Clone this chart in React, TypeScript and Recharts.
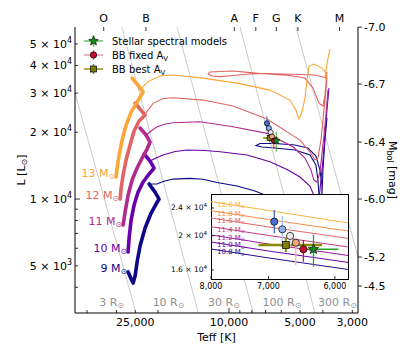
import React from 'react';
import { ComposedChart, Line, Scatter, XAxis, YAxis, ErrorBar } from 'recharts';

type Pt = [number, number];

const FONT = '"DejaVu Sans", sans-serif';

// ---------- main panel axes ----------
const TEFF_DOMAIN: [number, number] = [2838, 45000];
const LUM_DOMAIN: [number, number] = [3065, 59600];

const TEFF_TICKS = [40000, 30000, 25000, 20000, 10000, 9000, 8000, 7000, 6000, 5000, 4000, 3000];
const TEFF_LABELED = [25000, 10000, 5000, 3000];

const LUM_TICKS = [4000, 5000, 6000, 7000, 8000, 9000, 10000, 20000, 30000, 40000, 50000];
const LUM_LABELED = [5000, 10000, 20000, 30000, 40000, 50000];

const MBOL_TICK_LUM = [59500, 32960, 18060, 10000, 5480, 4056];
const MBOL_LABELS = ['-7.0', '-6.7', '-6.4', '-6.0', '-5.2', '-4.5'];

const SPEC_TYPES = ['O', 'B', 'A', 'F', 'G', 'K', 'M'];
const SPEC_TEFF = [34000, 22500, 9500, 7700, 6300, 5100, 3400];

// ---------- constant radius lines ----------
const RADIUS_LABELS = ['3', '10', '30', '100', '300'];
const RADIUS_LINE_TEFF: Pt[] = [[45000, 24800], [28490, 13490], [16610, 7900], [8980, 4320], [5201, 2838]];
const RADIUS_LINE_LUM: Pt[] = [[30030, 3065], [59600, 3065], [59600, 3065], [59600, 3065], [59600, 5480]];
const RADIUS_LABEL_TEFF = [31470, 18050, 10500, 5963, 3470];
const RADIUS_LABEL_LUM = 3447;

// ---------- evolutionary tracks: [Teff, L] ----------
const TRACK_MASSES = ['9', '10', '11', '12', '13'];
const TRACK_COLORS = ['#0d0887', '#6a00a8', '#b12a90', '#e16462', '#fca636'];

const MS_9: Pt[] = [[26790, 4691], [26020, 4361], [25510, 4183], [25020, 4500], [24540, 5203], [23840, 6142], [22700, 7403], [21400, 8648], [20390, 9495], [19800, 10000], [20590, 10750], [21830, 11690]];
const MS_10: Pt[] = [[26790, 5772], [26530, 6672], [26020, 8042], [25270, 9396], [24300, 10750], [23140, 11930], [21830, 12960], [20790, 13790], [21610, 14830], [22920, 15950]];
const MS_11: Pt[] = [[28130, 7637], [27590, 8740], [26790, 10420], [25770, 12180], [24540, 13790], [23370, 15300], [22260, 16800], [21610, 18060], [22480, 19430], [23840, 20890]];
const MS_12: Pt[] = [[28960, 10000], [28680, 11210], [28130, 12830], [27320, 14990], [26280, 17510], [25270, 20250], [24070, 22460], [22700, 23900], [23840, 25430], [25020, 27060]];
const MS_13: Pt[] = [[30120, 12560], [29830, 13790], [29250, 15790], [28400, 18440], [27320, 21540], [26020, 24650], [24540, 27350], [23140, 30340], [24540, 32960], [25770, 35080]];

const POST_9: Pt[] = [[21830, 11690], [20190, 11690], [19040, 11990], [17270, 12300], [14630, 12390], [12890, 12270], [11240, 11870], [9250, 11440], [7760, 10860], [6385, 10000], [5000, 8740], [4363, 7880], [4197, 8470], [4155, 10420], [4197, 12180], [4280, 14230], [4537, 15790], [5253, 16630], [6385, 16970], [7247, 17150], [7685, 17420], [7389, 17780], [6385, 17780], [5253, 17510], [4627, 16970], [4280, 15620], [4115, 13510], [4035, 11560], [4035, 10420], [3996, 13510], [3918, 18440], [3843, 23170]];
const POST_10: Pt[] = [[21610, 14830], [20390, 15300], [19040, 15790], [16940, 16370], [15070, 16630], [12640, 16540], [10920, 16330], [8390, 15790], [6702, 14720], [5623, 13510], [5002, 12560], [4537, 11440], [4280, 9896], [4197, 8470], [4155, 9896], [4075, 12180], [3996, 14990], [3918, 19430], [3843, 25170], [3769, 31620]];
const POST_11: Pt[] = [[22480, 19430], [21400, 20250], [20190, 21170], [18670, 21770], [17270, 22070], [13270, 22300], [9617, 21170], [6902, 19770], [5356, 17200], [4764, 15300], [4494, 13510], [4363, 12180], [4238, 11930], [4115, 13230], [3996, 17510], [3880, 23900], [3806, 30970]];
const POST_12: Pt[] = [[22700, 24150], [20990, 26990], [19040, 28360], [17270, 28600], [12890, 27920], [9617, 26240], [6902, 22930], [5002, 18440], [4537, 16280], [4321, 14990], [4197, 15300], [4075, 18440], [3957, 25170], [3880, 30970], [3843, 35080], [4321, 36200], [5002, 36390], [6902, 36760], [8149, 36570], [9617, 36010], [10920, 35630], [11800, 35820], [12270, 36570], [12040, 37340], [10920, 37530], [9617, 37730], [8149, 37140], [6902, 36570], [5515, 36010], [4764, 35080], [4406, 31620], [4155, 27060], [3996, 26240], [3918, 29410], [3843, 37340]];
const POST_13: Pt[] = [[23840, 30970], [22260, 33650], [19610, 35820], [17270, 36200], [12890, 35080], [9250, 33300], [6702, 30970], [5515, 27920], [5202, 25170], [5050, 22930], [4905, 24650], [4764, 28510], [4672, 34360], [4581, 39720], [4363, 40560], [4035, 38920], [3880, 36960], [3880, 34360], [3918, 35440], [3843, 40560], [3733, 47400]];

const MS_TRACKS = [MS_9, MS_10, MS_11, MS_12, MS_13];
const POST_TRACKS = [POST_9, POST_10, POST_11, POST_12, POST_13];

// ---------- observed points ----------
const OBS_TEFF = [6724, 6907, 6779, 6658, 6570, 6455, 6306];
const OBS_LUM = [18840, 21940, 20870, 19990, 19120, 18320, 18320];
const OBS_LUM_ERR: Pt[] = [[850, 850], [1600, 1750], [1820, 1910], [1270, 1350], [2590, 570], [1430, 1150], [1970, 1800]];
const OBS_TEFF_ERR: (Pt | null)[] = [[542, 442], null, null, null, null, null, [356, 173]];
const OBS_SHAPE = ['square', 'circle', 'circle', 'circle', 'circle', 'circle', 'star'];
const OBS_FILL = ['#7f7f00', '#4a6fd0', '#8fb0ee', '#e8e8e8', '#f4a582', '#c8102e', '#1a8a1a'];
const OBS_BAR = ['#8a8a00', '#4066c8', '#a6c2f2', '#d2d2d2', '#f5b89a', '#c8102e', '#2ca02c'];

// ---------- inset ----------
const INSET_TEFF_DOMAIN: [number, number] = [5820, 8000];
const INSET_LUM_DOMAIN: [number, number] = [15080, 26300];
const INSET_TEFF_TICKS = [8000, 7000, 6000];
const INSET_LUM_TICKS = [16000, 20000, 24000];

const INSET_MASSES = ['12.0', '11.8', '11.6', '11.4', '11.2', '11.0', '10.8'];
const INSET_COLORS = ['#fcb33a', '#f68d45', '#e16462', '#c33d80', '#9c179e', '#6a00a8', '#2a0c8e'];
const INSET_TRACK_TEFF = [8000, 7000, 5820];
const INSET_TRACK_LUM: number[][] = [
  [25010, 23610, 21760],
  [23580, 22260, 20640],
  [22480, 21200, 19670],
  [21240, 20050, 18600],
  [20120, 18960, 17590],
  [19210, 18110, 16810],
  [18350, 17310, 16050],
];

const PLOT = { left: 75, right: 358, top: 27, bottom: 313 };
const INSET_PLOT = { left: 46, bottom: 89 };

const rows = (pts: Pt[]) => pts.map(([T, L]) => ({ T, L }));

const OBS_ROWS = OBS_TEFF.map((T, i) => ({ T, L: OBS_LUM[i], lErr: OBS_LUM_ERR[i], tErr: OBS_TEFF_ERR[i] || [0, 0] }));

const sciParts = (v: number) => {
  const e = Math.floor(Math.log10(v) + 1e-9);
  const m = v / Math.pow(10, e);
  return [String(Math.round(m * 10) / 10), String(e)];
};

const Sun = ({ size }: { size: number }) => (
  <tspan fontSize={size} dy={size * 0.3}>⊙</tspan>
);

// ---------- ticks ----------
const BottomTick = (p: any) => {
  const v = p.payload.value;
  const len = v === 10000 ? 5 : 3;
  return (
    <g>
      <line x1={p.x} x2={p.x} y1={PLOT.bottom} y2={PLOT.bottom - len} stroke="#000" strokeWidth={0.8} />
      {TEFF_LABELED.includes(v) && (
        <text x={p.x} y={PLOT.bottom + 13} textAnchor="middle" fontSize={11} fill="#000">
          {v.toLocaleString('en-US')}
        </text>
      )}
    </g>
  );
};

const TopTick = (p: any) => {
  const i = SPEC_TEFF.indexOf(p.payload.value);
  return (
    <g>
      <line x1={p.x} x2={p.x} y1={PLOT.top} y2={PLOT.top + 4} stroke="#000" strokeWidth={0.8} />
      <text x={p.x} y={21.5} textAnchor="middle" fontSize={11} fill="#000">{SPEC_TYPES[i]}</text>
    </g>
  );
};

const LeftTick = (p: any) => {
  const v = p.payload.value;
  const len = v === 10000 ? 5 : 3;
  const [m, e] = sciParts(v);
  return (
    <g>
      <line x1={PLOT.left} x2={PLOT.left + len} y1={p.y} y2={p.y} stroke="#000" strokeWidth={0.8} />
      {LUM_LABELED.includes(v) && (
        <text x={PLOT.left - 3} y={p.y + 4} textAnchor="end" fontSize={11} fill="#000">
          <tspan>{`${m} × 10`}</tspan>
          <tspan fontSize={8} dy={-5}>{e}</tspan>
        </text>
      )}
    </g>
  );
};

const RightTick = (p: any) => {
  const i = MBOL_TICK_LUM.indexOf(p.payload.value);
  return (
    <g>
      <line x1={PLOT.right} x2={PLOT.right + 4} y1={p.y} y2={p.y} stroke="#000" strokeWidth={0.8} />
      <text x={PLOT.right + 6} y={p.y + 4} fontSize={11} fill="#000">{MBOL_LABELS[i]}</text>
    </g>
  );
};

const InsetBottomTick = (p: any) => {
  const v = p.payload.value;
  return (
    <g>
      <line x1={p.x} x2={p.x} y1={INSET_PLOT.bottom} y2={INSET_PLOT.bottom - 3} stroke="#000" strokeWidth={0.8} />
      <text x={p.x} y={INSET_PLOT.bottom + 10} textAnchor="middle" fontSize={8} fill="#000">
        {v.toLocaleString('en-US')}
      </text>
    </g>
  );
};

const InsetLeftTick = (p: any) => {
  const [m, e] = sciParts(p.payload.value);
  return (
    <g>
      <line x1={INSET_PLOT.left} x2={INSET_PLOT.left + 3} y1={p.y} y2={p.y} stroke="#000" strokeWidth={0.8} />
      <text x={INSET_PLOT.left - 4} y={p.y + 2.5} textAnchor="end" fontSize={7.5} fill="#000">
        <tspan>{`${m} × 10`}</tspan>
        <tspan fontSize={5.5} dy={-3.5}>{e}</tspan>
      </text>
    </g>
  );
};

// ---------- markers ----------
const starPoints = (cx: number, cy: number, r: number) => {
  const pts: string[] = [];
  for (let k = 0; k < 10; k++) {
    const a = -Math.PI / 2 + (k * Math.PI) / 5;
    const rr = k % 2 === 0 ? r : r * 0.45;
    pts.push(`${cx + rr * Math.cos(a)},${cy + rr * Math.sin(a)}`);
  }
  return pts.join(' ');
};

const makeMarker = (kind: string, fill: string, size: number) => (p: any) => {
  if (p.cx == null) return <g />;
  if (kind === 'star') {
    return <polygon points={starPoints(p.cx, p.cy, size * 1.5)} fill={fill} stroke="#000" strokeWidth={0.6} />;
  }
  if (kind === 'square') {
    return <rect x={p.cx - size} y={p.cy - size} width={size * 2} height={size * 2} fill={fill} stroke="#000" strokeWidth={0.7} />;
  }
  return <circle cx={p.cx} cy={p.cy} r={size} fill={fill} stroke="#000" strokeWidth={0.7} />;
};

const MassLabel = (p: any) => (
  <text x={p.cx - 1} y={p.cy} textAnchor="end" fontSize={11} fill={p.payload.color}>
    {`${p.payload.text} M`}
    <Sun size={8} />
  </text>
);

const RadiusLabel = (p: any) => (
  <text x={p.cx} y={p.cy + 4} textAnchor="middle" fontSize={11} fill="#8f8f8f">
    {`${p.payload.text} R`}
    <Sun size={8} />
  </text>
);

const InsetLabel = (p: any) => (
  <text x={p.cx + 6} y={p.cy + 5} fontSize={7} fill={p.payload.color}>
    {`${p.payload.text} M`}
    <Sun size={5} />
  </text>
);

const renderObs = (size: number, barW: number, ax: any) =>
  OBS_ROWS.map((row, i) => (
    <Scatter
      key={`obs-${i}`}
      {...ax}
      data={[row]}
      dataKey="L"
      shape={makeMarker(OBS_SHAPE[i], OBS_FILL[i], OBS_SHAPE[i] === 'square' ? size * 0.95 : size)}
      isAnimationActive={false}
    >
      <ErrorBar dataKey="lErr" direction="y" width={0} stroke={OBS_BAR[i]} strokeWidth={i === 0 ? barW * 1.6 : barW} />
      {OBS_TEFF_ERR[i] && (
        <ErrorBar dataKey="tErr" direction="x" width={0} stroke={OBS_BAR[i]} strokeWidth={i === 0 ? barW * 1.8 : barW} />
      )}
    </Scatter>
  ));

export default function App() {
  const ax = { xAxisId: 'b', yAxisId: 'l' };
  const massLabelRows = TRACK_MASSES.map((m, i) => ({
    T: MS_TRACKS[i][0][0], L: MS_TRACKS[i][0][1], text: m, color: TRACK_COLORS[i],
  }));
  const radiusLabelRows = RADIUS_LABEL_TEFF.map((T, i) => ({ T, L: RADIUS_LABEL_LUM, text: RADIUS_LABELS[i] }));
  const insetLabelRows = INSET_MASSES.map((m, i) => ({
    T: INSET_TRACK_TEFF[0], L: INSET_TRACK_LUM[i][0], text: m, color: INSET_COLORS[i],
  }));

  return (
    <div style={{ position: 'absolute', left: 0, top: 0, width: 415, height: 356, background: '#fff', fontFamily: FONT }}>
      <ComposedChart width={415} height={356} margin={{ top: 8, right: 12, bottom: 13, left: 8 }}>
        <XAxis xAxisId="b" dataKey="T" type="number" scale="log" domain={TEFF_DOMAIN} reversed allowDataOverflow
          ticks={TEFF_TICKS} interval={0} tick={BottomTick} tickLine={false} axisLine={{ stroke: '#000', strokeWidth: 1 }} height={30} />
        <XAxis xAxisId="t" orientation="top" dataKey="T" type="number" scale="log" domain={TEFF_DOMAIN} reversed allowDataOverflow
          ticks={SPEC_TEFF} interval={0} tick={TopTick} tickLine={false} axisLine={false} height={19} />
        <YAxis yAxisId="l" dataKey="L" type="number" scale="log" domain={LUM_DOMAIN} allowDataOverflow
          ticks={LUM_TICKS} interval={0} tick={LeftTick} tickLine={false} axisLine={{ stroke: '#000', strokeWidth: 1 }} width={67} />
        <YAxis yAxisId="r" orientation="right" type="number" scale="log" domain={LUM_DOMAIN} allowDataOverflow
          ticks={MBOL_TICK_LUM} interval={0} tick={RightTick} tickLine={false} axisLine={{ stroke: '#000', strokeWidth: 1 }} width={45} />

        {RADIUS_LINE_TEFF.map((ts, i) => (
          <Line key={`rad-${i}`} {...ax} data={rows([[ts[0], RADIUS_LINE_LUM[i][0]], [ts[1], RADIUS_LINE_LUM[i][1]]])}
            dataKey="L" stroke="#b4b4b4" strokeWidth={0.7} dot={false} activeDot={false} isAnimationActive={false} />
        ))}

        {POST_TRACKS.map((pts, i) => (
          <Line key={`post-${i}`} {...ax} data={rows(pts)} dataKey="L" stroke={TRACK_COLORS[i]} strokeWidth={1.1}
            dot={false} activeDot={false} isAnimationActive={false} />
        ))}
        {MS_TRACKS.map((pts, i) => (
          <Line key={`ms-${i}`} {...ax} data={rows(pts)} dataKey="L" stroke={TRACK_COLORS[i]} strokeWidth={3.6}
            strokeLinejoin="round" strokeLinecap="round" dot={false} activeDot={false} isAnimationActive={false} />
        ))}

        <Scatter {...ax} data={massLabelRows} dataKey="L" shape={MassLabel} isAnimationActive={false} />
        <Scatter {...ax} data={radiusLabelRows} dataKey="L" shape={RadiusLabel} isAnimationActive={false} />
        {renderObs(2.6, 0.9, ax)}
      </ComposedChart>

      {/* inset frame */}
      <div style={{ position: 'absolute', left: 211, top: 194, width: 138, height: 86, background: '#fff', border: '1px solid #000', boxSizing: 'border-box' }} />
      <div style={{ position: 'absolute', left: 165, top: 190 }}>
        <ComposedChart width={187} height={103} margin={{ top: 4, right: 4, bottom: 0, left: 0 }}>
          <XAxis dataKey="T" type="number" scale="log" domain={INSET_TEFF_DOMAIN} reversed allowDataOverflow
            ticks={INSET_TEFF_TICKS} interval={0} tick={InsetBottomTick} tickLine={false} axisLine={false} height={14} />
          <YAxis dataKey="L" type="number" scale="log" domain={INSET_LUM_DOMAIN} allowDataOverflow
            ticks={INSET_LUM_TICKS} interval={0} tick={InsetLeftTick} tickLine={false} axisLine={false} width={46} />
          {INSET_TRACK_LUM.map((ls, i) => (
            <Line key={`in-${i}`} data={INSET_TRACK_TEFF.map((T, k) => ({ T, L: ls[k] }))} dataKey="L"
              stroke={INSET_COLORS[i]} strokeWidth={1} dot={false} activeDot={false} isAnimationActive={false} />
          ))}
          <Scatter data={insetLabelRows} dataKey="L" shape={InsetLabel} isAnimationActive={false} />
          {renderObs(3.6, 1.3, {})}
        </ComposedChart>
      </div>

      {/* axis titles and legend */}
      <svg width={415} height={356} style={{ position: 'absolute', left: 0, top: 0, pointerEvents: 'none' }}>
        <text x={216.5} y={341} textAnchor="middle" fontSize={11} fill="#000">Teff [K]</text>
        <text x={25} y={170} textAnchor="middle" fontSize={11} fill="#000" transform="rotate(-90 25 170)">
          L [L<Sun size={8} /><tspan dy={-2.4}>]</tspan>
        </text>
        <text x={389} y={170} textAnchor="middle" fontSize={11} fill="#000" transform="rotate(90 389 170)">
          M<tspan fontSize={8} dy={2.5}>bol</tspan><tspan dy={-2.5}> [mag]</tspan>
        </text>

        <g>
          <line x1={84} x2={103} y1={41} y2={41} stroke="#6cc36c" strokeWidth={1.6} />
          <line x1={93.5} x2={93.5} y1={35} y2={47} stroke="#6cc36c" strokeWidth={1.6} />
          <polygon points={starPoints(93.5, 41, 5)} fill="#1a8a1a" stroke="#000" strokeWidth={0.6} />
          <text x={112} y={44.5} fontSize={10} fill="#000">Stellar spectral models</text>

          <line x1={84} x2={103} y1={55} y2={55} stroke="#e37f8f" strokeWidth={1.2} />
          <line x1={93.5} x2={93.5} y1={50} y2={60} stroke="#e37f8f" strokeWidth={1.2} />
          <circle cx={93.5} cy={55} r={3.2} fill="#c8102e" stroke="#000" strokeWidth={0.7} />
          <text x={112} y={58.5} fontSize={10} fill="#000">BB fixed A<tspan fontSize={7} dy={2.5}>V</tspan></text>

          <line x1={84} x2={103} y1={69} y2={69} stroke="#8a8a00" strokeWidth={1.4} />
          <line x1={93.5} x2={93.5} y1={64} y2={74} stroke="#8a8a00" strokeWidth={1.4} />
          <rect x={90.5} y={66} width={6} height={6} fill="#7f7f00" stroke="#000" strokeWidth={0.7} />
          <text x={112} y={72.5} fontSize={10} fill="#000">BB best A<tspan fontSize={7} dy={2.5}>V</tspan></text>
        </g>
      </svg>
    </div>
  );
}
